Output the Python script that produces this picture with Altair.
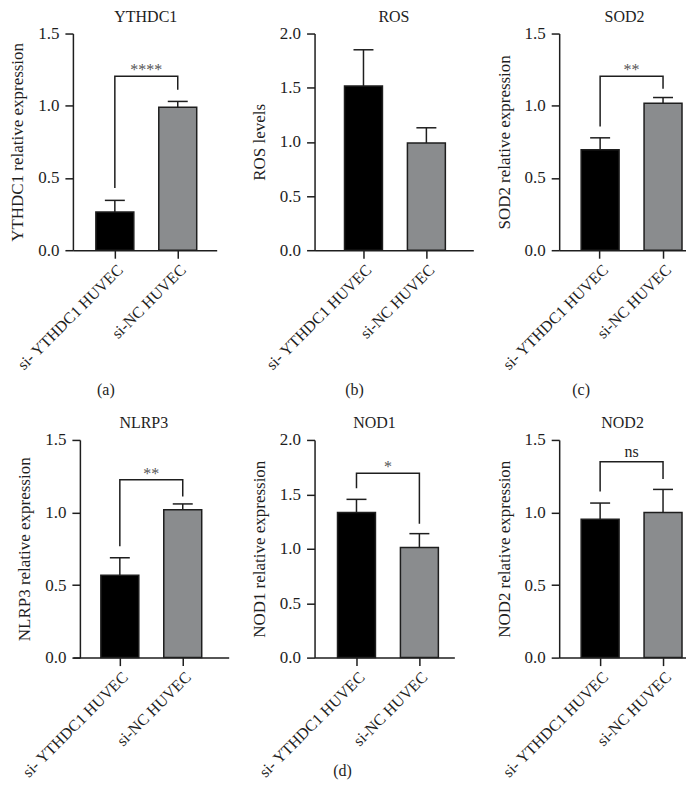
import altair as alt
import pandas as pd

groups = ["si- YTHDC1 HUVEC", "si-NC HUVEC"]

titles = ["YTHDC1", "ROS", "SOD2", "NLRP3", "NOD1", "NOD2"]
y_titles = ["YTHDC1 relative expression", "ROS levels", "SOD2 relative expression",
            "NLRP3 relative expression", "NOD1 relative expression", "NOD2 relative expression"]
y_max = [1.5, 2.0, 1.5, 1.5, 2.0, 1.5]
ticks_15 = [0.0, 0.5, 1.0, 1.5]
ticks_20 = [0.0, 0.5, 1.0, 1.5, 2.0]

mean_ythdc1 = [0.265, 0.99]
sd_ythdc1 = [0.08, 0.04]
mean_ros = [1.515, 0.99]
sd_ros = [0.335, 0.14]
mean_sod2 = [0.695, 1.017]
sd_sod2 = [0.083, 0.04]
mean_nlrp3 = [0.568, 1.019]
sd_nlrp3 = [0.12, 0.04]
mean_nod1 = [1.334, 1.011]
sd_nod1 = [0.12, 0.128]
mean_nod2 = [0.953, 1.0]
sd_nod2 = [0.112, 0.159]

# brackets: [left end, top, top, right end]
bracket_ythdc1 = [0.43, 1.205, 1.205, 1.11]
bracket_sod2 = [0.856, 1.205, 1.205, 1.118]
bracket_nlrp3 = [0.767, 1.225, 1.225, 1.11]
bracket_nod1 = [1.557, 1.695, 1.695, 1.23]
bracket_nod2 = [1.145, 1.349, 1.349, 1.23]
sig_labels = ["****", "**", "**", "*", "ns"]
sub_labels = ["(a)", "(b)", "(c)", "(d)"]

FONT = "Liberation Serif"
INK = "#1e1e1e"
STEP = 63.0
PI = 1 - 38.0 / STEP


def panel(title, ytitle, ymax, yvals, means, sds, width, height, left, title_dx,
          bracket=None, sig=None, sub=None, sub_xy=None, yoffset=0):
    df = pd.DataFrame({"group": groups, "mean": means,
                       "upper": [m + s for m, s in zip(means, sds)]})
    avail = width - STEP * (2 - PI)
    po = (width / STEP - (2 - PI)) / 2
    xs = alt.Scale(domain=groups, paddingInner=PI, paddingOuter=po, align=left / avail)
    ys = alt.Scale(domain=[0, ymax], nice=False)
    xax = alt.Axis(labelAngle=-45, title=None, labelPadding=3, labelFontSize=16)
    yax = alt.Axis(values=yvals, format=".1f", labelPadding=6, titlePadding=11, offset=yoffset)
    x = alt.X("group:N", scale=xs, axis=xax)
    bars = alt.Chart(df).mark_bar(stroke=INK, strokeWidth=1.5).encode(
        x=x,
        y=alt.Y("mean:Q", scale=ys, axis=yax, title=ytitle),
        fill=alt.Fill("group:N", scale=alt.Scale(domain=groups, range=["#000000", "#8a8c8e"]), legend=None),
    )
    err = alt.Chart(df).mark_rule(color=INK, strokeWidth=1.5).encode(
        x=alt.X("group:N", title=None), y=alt.Y("mean:Q", title=ytitle), y2="upper:Q")
    cap = alt.Chart(df).mark_tick(color=INK, size=20, thickness=1.5, opacity=1).encode(
        x=alt.X("group:N", title=None), y=alt.Y("upper:Q", title=ytitle))
    layers = [bars, err, cap]
    if bracket is not None:
        bdf = pd.DataFrame({"group": [groups[0], groups[0], groups[1], groups[1]],
                            "val": bracket, "ord": [0, 1, 2, 3]})
        layers.append(alt.Chart(bdf).mark_line(color=INK, strokeWidth=1.5, strokeJoin="miter").encode(
            x=alt.X("group:N", title=None), y=alt.Y("val:Q", title=ytitle), order="ord:Q"))
        is_star = "*" in sig
        sdf = pd.DataFrame({"group": [groups[0]], "val": [bracket[1]], "t": [sig]})
        layers.append(alt.Chart(sdf).mark_text(
            font=FONT, fontSize=16, baseline="alphabetic", dx=STEP / 2,
            dy=-1 if is_star else -5, color="#555555" if is_star else INK).encode(
            x=alt.X("group:N", title=None), y=alt.Y("val:Q", title=ytitle), text="t:N"))
    if sub is not None:
        ldf = pd.DataFrame({"t": [sub]})
        layers.append(alt.Chart(ldf).mark_text(font=FONT, fontSize=16, color=INK, baseline="middle").encode(
            text="t:N", x=alt.value(sub_xy[0]), y=alt.value(sub_xy[1])))
    return alt.layer(*layers).properties(
        width=width, height=height,
        title=alt.TitleParams(title, dx=title_dx, offset=0, anchor="middle"))


pa = panel(titles[0], y_titles[0], y_max[0], ticks_15, mean_ythdc1, sd_ythdc1, 144, 217, 23, 1,
           bracket_ythdc1, sig_labels[0], sub_labels[0], (33, 357))
pb = panel(titles[1], y_titles[1], y_max[1], ticks_20, mean_ros, sd_ros, 159, 217, 30, 0,
           None, None, sub_labels[1], (40, 357))
pc = panel(titles[2], y_titles[2], y_max[2], ticks_15, mean_sod2, sd_sod2, 145, 217, 22, -7,
           bracket_sod2, sig_labels[1], sub_labels[2], (22, 357))
pd_ = panel(titles[3], y_titles[3], y_max[3], ticks_15, mean_nlrp3, sd_nlrp3, 156, 218, 28, -7,
            bracket_nlrp3, sig_labels[2], yoffset=-7)
pe = panel(titles[4], y_titles[4], y_max[4], ticks_20, mean_nod1, sd_nod1, 140, 218, 23, -10,
           bracket_nod1, sig_labels[3], sub_labels[3], (28, 332))
pf = panel(titles[5], y_titles[5], y_max[5], ticks_15, mean_nod2, sd_nod2, 147, 218, 22, -10,
           bracket_nod2, sig_labels[4])

chart = alt.concat(pa, pb, pc, pd_, pe, pf, columns=3,
                   spacing={"row": 190, "column": 86}, bounds="flush", align="none").properties(
    padding={"top": 0, "right": -20, "bottom": 0, "left": 0}
).configure_axis(
    labelFont=FONT, titleFont=FONT, labelFontSize=17, titleFontSize=17,
    titleFontWeight="normal", labelColor=INK, titleColor=INK,
    domainColor=INK, domainWidth=1.5, tickColor=INK, tickWidth=1.5, tickSize=8, grid=False,
).configure_view(stroke=None).configure_title(
    font=FONT, fontSize=16, fontWeight="normal", color=INK
)

chart.save("out.html", embed_options={"renderer": "svg", "actions": False})
